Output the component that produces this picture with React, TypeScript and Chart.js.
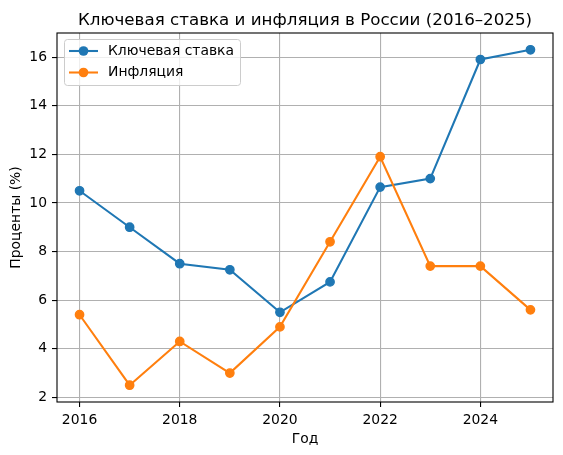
import React, { useEffect, useRef } from "react";
import { Chart, registerables } from "chart.js";

Chart.register(...registerables);

const years = [2016, 2017, 2018, 2019, 2020, 2021, 2022, 2023, 2024, 2025];
const keyRate = [10.5, 9.0, 7.5, 7.25, 5.5, 6.75, 10.65, 11.0, 15.9, 16.3];
const inflation = [5.4, 2.5, 4.3, 3.0, 4.9, 8.4, 11.9, 7.4, 7.4, 5.6];
const xTicks = [2016, 2018, 2020, 2022, 2024];
const yTicks = [2, 4, 6, 8, 10, 12, 14, 16];
const seriesNames = ["Ключевая ставка", "Инфляция"];
const titleText = "Ключевая ставка и инфляция в России (2016–2025)";
const xLabel = "Год";
const yLabel = "Проценты (%)";

const BLUE = "#1f77b4";
const ORANGE = "#ff7f0e";
const FONT = "'DejaVu Sans', sans-serif";

export default function App() {
  const ref = useRef<HTMLCanvasElement | null>(null);

  useEffect(() => {
    if (!ref.current) return;
    const allVals = [...keyRate, ...inflation];
    const vMin = Math.min(...allVals);
    const vMax = Math.max(...allVals);
    const vPad = (vMax - vMin) * 0.05;
    const xPad = (years[years.length - 1] - years[0]) * 0.05;

    const decor = {
      id: "decor",
      afterDatasetsDraw(chart: any) {
        const ctx = chart.ctx;
        const a = chart.chartArea;
        ctx.save();
        // frame
        ctx.strokeStyle = "#000";
        ctx.lineWidth = 1.1;
        ctx.strokeRect(a.left, a.top, a.right - a.left, a.bottom - a.top);
        // legend
        const lx = 64.5, ly = 39.5, lw = 176, lh = 46, r = 3;
        ctx.beginPath();
        ctx.moveTo(lx + r, ly);
        ctx.lineTo(lx + lw - r, ly);
        ctx.quadraticCurveTo(lx + lw, ly, lx + lw, ly + r);
        ctx.lineTo(lx + lw, ly + lh - r);
        ctx.quadraticCurveTo(lx + lw, ly + lh, lx + lw - r, ly + lh);
        ctx.lineTo(lx + r, ly + lh);
        ctx.quadraticCurveTo(lx, ly + lh, lx, ly + lh - r);
        ctx.lineTo(lx, ly + r);
        ctx.quadraticCurveTo(lx, ly, lx + r, ly);
        ctx.closePath();
        ctx.fillStyle = "rgba(255,255,255,0.8)";
        ctx.fill();
        ctx.strokeStyle = "#cccccc";
        ctx.lineWidth = 1;
        ctx.stroke();
        const rows = [
          { y: 51, c: BLUE, t: seriesNames[0] },
          { y: 72.5, c: ORANGE, t: seriesNames[1] },
        ];
        for (const row of rows) {
          ctx.strokeStyle = row.c;
          ctx.lineWidth = 2.08;
          ctx.beginPath();
          ctx.moveTo(69, row.y);
          ctx.lineTo(98, row.y);
          ctx.stroke();
          ctx.fillStyle = row.c;
          ctx.beginPath();
          ctx.arc(83.5, row.y, 4.85, 0, Math.PI * 2);
          ctx.fill();
          ctx.fillStyle = "#000";
          ctx.font = `13.9px ${FONT}`;
          ctx.textAlign = "left";
          ctx.textBaseline = "middle";
          ctx.fillText(row.t, 108, row.y);
        }
        // title
        const cx = (a.left + a.right) / 2;
        ctx.fillStyle = "#000";
        ctx.font = `16.7px ${FONT}`;
        ctx.textAlign = "center";
        ctx.textBaseline = "alphabetic";
        ctx.fillText(titleText, cx, a.top - 8.3);
        // x label
        ctx.font = `13.9px ${FONT}`;
        ctx.fillText(xLabel, cx, 443);
        // y label
        ctx.save();
        ctx.translate(16, (a.top + a.bottom) / 2);
        ctx.rotate(-Math.PI / 2);
        ctx.textBaseline = "middle";
        ctx.fillText(yLabel, 0, 0);
        ctx.restore();
        ctx.restore();
      },
    };

    const chart = new Chart(ref.current, {
      type: "line",
      data: {
        datasets: [
          {
            label: seriesNames[0],
            data: years.map((y, i) => ({ x: y, y: keyRate[i] })),
            borderColor: BLUE,
            backgroundColor: BLUE,
            pointBackgroundColor: BLUE,
            pointBorderColor: BLUE,
            borderWidth: 2.08,
            pointRadius: 4.17,
            pointBorderWidth: 1.39,
            tension: 0,
            order: 1,
          },
          {
            label: seriesNames[1],
            data: years.map((y, i) => ({ x: y, y: inflation[i] })),
            borderColor: ORANGE,
            backgroundColor: ORANGE,
            pointBackgroundColor: ORANGE,
            pointBorderColor: ORANGE,
            borderWidth: 2.08,
            pointRadius: 4.17,
            pointBorderWidth: 1.39,
            tension: 0,
            order: 0,
          },
        ],
      },
      options: {
        responsive: false,
        animation: false,
        layout: { padding: { top: 33, right: 10, left: 0, bottom: 0 } },
        plugins: {
          legend: { display: false },
          title: { display: false },
          tooltip: { enabled: false },
        },
        scales: {
          x: {
            type: "linear",
            min: years[0] - xPad,
            max: years[years.length - 1] + xPad,
            afterBuildTicks: (s: any) => {
              s.ticks = xTicks.map((v) => ({ value: v }));
            },
            afterFit: (s: any) => {
              s.height = 53;
            },
            border: { display: false },
            grid: {
              color: "#b0b0b0",
              lineWidth: 1.1,
              tickColor: "#000",
              tickLength: 5,
              tickWidth: 1.1,
            },
            ticks: {
              padding: 5,
              color: "#000",
              maxRotation: 0,
              font: { family: FONT, size: 13.9 },
              callback: (v: any) => String(v),
            },
          },
          y: {
            type: "linear",
            min: vMin - vPad,
            max: vMax + vPad,
            afterBuildTicks: (s: any) => {
              s.ticks = yTicks.map((v) => ({ value: v }));
            },
            afterFit: (s: any) => {
              s.width = 57;
            },
            border: { display: false },
            grid: {
              color: "#b0b0b0",
              lineWidth: 1.1,
              tickColor: "#000",
              tickLength: 5,
              tickWidth: 1.1,
            },
            ticks: {
              padding: 5,
              color: "#000",
              font: { family: FONT, size: 13.9 },
              callback: (v: any) => String(v),
            },
          },
        },
      },
      plugins: [decor],
    });
    return () => chart.destroy();
  }, []);

  return (
    <div style={{ position: "absolute", left: 0, top: 0, width: 563, height: 455, background: "#fff" }}>
      <canvas ref={ref} width={563} height={455} />
    </div>
  );
}
